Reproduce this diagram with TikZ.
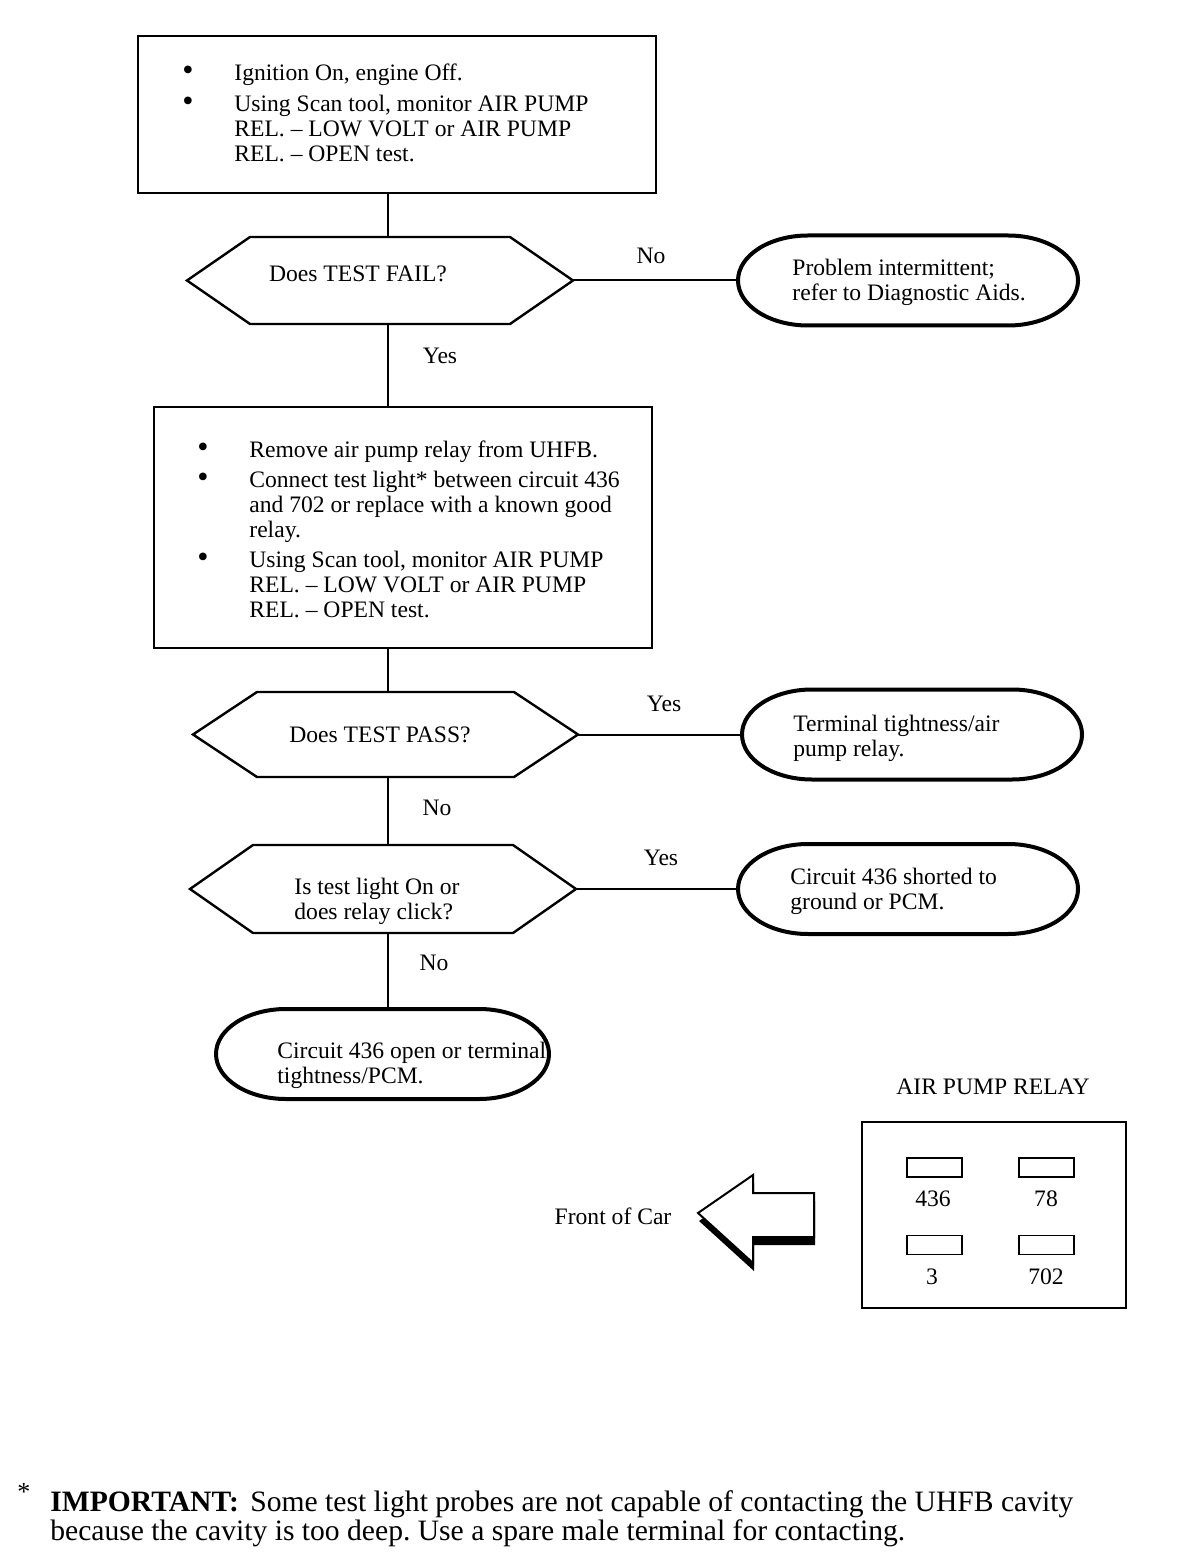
\documentclass[tikz,border=0pt]{standalone}
\usepackage{fontspec}
\setmainfont{Liberation Serif}
\frenchspacing

\tikzset{
  flowline/.style={line width=1pt},
  stepbox/.style={draw, line width=1pt, outer sep=0pt, inner sep=0pt},
  hexbox/.style={outer sep=0pt, inner sep=0pt},
  endbox/.style={outer sep=0pt, inner sep=0pt, minimum width=170pt, minimum height=45pt},
  txt/.style={inner sep=0pt, font=\fontsize{11.8}{12.5}\selectfont},
  slot/.style={draw, line width=0.8pt, minimum width=27.5pt, minimum height=9.5pt, inner sep=0pt}
}

% big bullet of the step boxes
\newcommand{\bigdot}{\smash{\fontsize{16}{12}\selectfont\textbullet}}
% hexagon round an empty node, #2 = width of the pointed ends
\newcommand{\hexpath}[2]{%
  \draw[line width=1.2pt] (#1.west) -- ([xshift=#2]#1.north west) -- ([xshift=-#2]#1.north east)
    -- (#1.east) -- ([xshift=-#2]#1.south east) -- ([xshift=#2]#1.south west) -- cycle;}
% flat oval round an end node
\newcommand{\ovalpath}[1]{%
  \draw[line width=2pt] ([xshift=35pt]#1.north west) -- ([xshift=-35pt]#1.north east)
    arc[start angle=90, end angle=-90, x radius=35pt, y radius=22.5pt]
    -- ([xshift=35pt]#1.south west)
    arc[start angle=270, end angle=90, x radius=35pt, y radius=22.5pt] -- cycle;}

\begin{document}
\begin{tikzpicture}[x=0.5pt, y=-0.5pt]
\useasboundingbox (0,0) rectangle (1200,1566);
\fill[white] (0,0) rectangle (1200,1566);
\coordinate (spine) at (388,0);

% First step
\node[stepbox, minimum width=259pt, minimum height=78.5pt] (boxA) at (397,114.5) {};
\node[txt, anchor=base west] (boxAtxt) at (182,81) {\begin{tabular}[t]{@{}p{26pt}@{}l@{}}
\bigdot & Ignition On, engine Off.\\[3pt]
\bigdot & Using Scan tool, monitor AIR PUMP\\
 & REL. -- LOW VOLT or AIR PUMP\\
 & REL. -- OPEN test.
\end{tabular}};

% Does TEST FAIL?
\node[hexbox, minimum width=193pt, minimum height=43.5pt] (hexA) at (380,280.5) {};
\hexpath{hexA}{31.5pt}
\node[txt, anchor=base] (hexAtxt) at (358,282) {Does TEST FAIL?};

% Problem intermittent
\node[endbox] (endA) at (908,280.5) {};
\ovalpath{endA}
\node[txt, anchor=base west] (endAtxt) at (792,276) {\begin{tabular}[t]{@{}l@{}}
Problem intermittent;\\ refer to Diagnostic Aids.\end{tabular}};

% Second step
\node[stepbox, minimum width=249pt, minimum height=120.5pt] (boxB) at (403,527.5) {};
\node[txt, anchor=base west] (boxBtxt) at (197,458) {\begin{tabular}[t]{@{}p{26pt}@{}l@{}}
\bigdot & Remove air pump relay from UHFB.\\[2.5pt]
\bigdot & Connect test light* between circuit 436\\
 & and 702 or replace with a known good\\
 & relay.\\[2.5pt]
\bigdot & Using Scan tool, monitor AIR PUMP\\
 & REL. -- LOW VOLT or AIR PUMP\\
 & REL. -- OPEN test.
\end{tabular}};

% Does TEST PASS?
\node[hexbox, minimum width=192.5pt, minimum height=42.5pt] (hexB) at (385.5,734.5) {};
\hexpath{hexB}{32pt}
\node[txt, anchor=base] (hexBtxt) at (380,742) {Does TEST PASS?};

% Terminal tightness
\node[endbox] (endB) at (912,734.5) {};
\ovalpath{endB}
\node[txt, anchor=base west] (endBtxt) at (793,731) {\begin{tabular}[t]{@{}l@{}}
Terminal tightness/air\\ pump relay.\end{tabular}};

% Is test light On?
\node[hexbox, minimum width=193pt, minimum height=44pt] (hexC) at (383,889) {};
\hexpath{hexC}{31.5pt}
\node[txt, anchor=base west] (hexCtxt) at (294,894) {\begin{tabular}[t]{@{}l@{}}
Is test light On or\\ does relay click?\end{tabular}};

% Circuit 436 shorted
\node[endbox] (endC) at (908,889) {};
\ovalpath{endC}
\node[txt, anchor=base west] (endCtxt) at (790,884) {\begin{tabular}[t]{@{}l@{}}
Circuit 436 shorted to\\ ground or PCM.\end{tabular}};

% Circuit 436 open
\node[endbox, minimum width=166.5pt] (endD) at (382.5,1054) {};
\ovalpath{endD}
\node[txt, anchor=base west] (endDtxt) at (277,1058) {\begin{tabular}[t]{@{}l@{}}
Circuit 436 open or terminal\\ tightness/PCM.\end{tabular}};

% Connectors and answers
\draw[flowline] (boxA.south -| spine) -- (hexA.north -| spine);
\draw[flowline] (hexA.east) -- (endA.west);
\node[txt, anchor=base] (noA) at (651,264) {No};
\draw[flowline] (hexA.south -| spine) -- (boxB.north -| spine);
\node[txt, anchor=base] (yesA) at (440,364) {Yes};
\draw[flowline] (boxB.south -| spine) -- (hexB.north -| spine);
\draw[flowline] (hexB.east) -- (endB.west);
\node[txt, anchor=base] (yesB) at (664,711) {Yes};
\draw[flowline] (hexB.south -| spine) -- (hexC.north -| spine);
\node[txt, anchor=base] (noB) at (437,815) {No};
\draw[flowline] (hexC.east) -- (endC.west);
\node[txt, anchor=base] (yesC) at (661,865) {Yes};
\draw[flowline] (hexC.south -| spine) -- (endD.north -| spine);
\node[txt, anchor=base] (noC) at (434,970) {No};

% Air pump relay
\node[txt, anchor=base] (relaytitle) at (993,1094) {AIR PUMP RELAY};
\node[stepbox, minimum width=132pt, minimum height=93pt] (relay) at (994,1215) {};
\node[slot] (slotA) at (934.5,1167.5) {};
\node[slot] (slotB) at (1046.5,1167.5) {};
\node[slot] (slotC) at (934.5,1245) {};
\node[slot] (slotD) at (1046.5,1245) {};
\node[txt, anchor=base] (pinA) at (933,1206) {436};
\node[txt, anchor=base] (pinB) at (1046,1206) {78};
\node[txt, anchor=base] (pinC) at (932,1284) {3};
\node[txt, anchor=base] (pinD) at (1046,1284) {702};

% Front of car arrow
\node[txt, anchor=base] (fronttxt) at (613,1224) {Front of Car};
\fill[black] (699,1221) -- (754,1183) -- (754,1201) -- (815,1201) -- (815,1245) -- (754,1245) -- (754,1271) -- cycle;
\draw[line width=1pt, fill=white] (698,1213) -- (753,1175) -- (753,1193) -- (814,1193) -- (814,1237) -- (753,1237) -- (753,1263) -- cycle;

% Footnote
\node[inner sep=0pt, anchor=base, font=\fontsize{13}{14}\selectfont] (star) at (24,1500) {*};
\node[inner sep=0pt, anchor=base west, font=\fontsize{14.8}{14}\selectfont] (foot) at (50,1511) {\begin{tabular}[t]{@{}l@{}}
\textbf{IMPORTANT:}\hspace{2pt} Some test light probes are not capable of contacting the UHFB cavity\\
because the cavity is too deep. Use a spare male terminal for contacting.\end{tabular}};
\end{tikzpicture}
\end{document}
